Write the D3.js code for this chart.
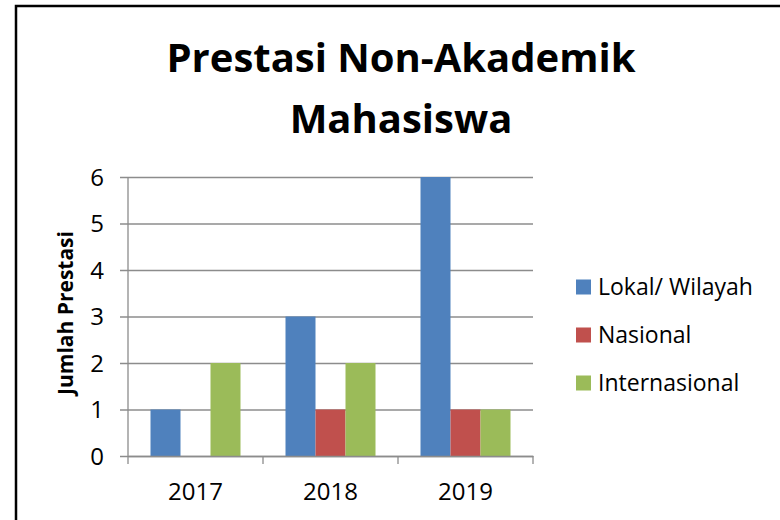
<!DOCTYPE html>
<html>
<head>
<meta charset="utf-8">
<script src="https://cdn.jsdelivr.net/npm/d3@7"></script>
<style>
  body { margin: 0; background: #fff; }
  svg text { font-family: "Open Sans", Lato, sans-serif; fill: #000; }
</style>
</head>
<body>
<div id="chart"></div>
<script>
// data
const years = ["2017", "2018", "2019"];
const seriesNames = ["Lokal/ Wilayah", "Nasional", "Internasional"];
const lokal = [1, 3, 6];
const nasional = [0, 1, 1];
const internasional = [2, 2, 1];
const yTicks = [0, 1, 2, 3, 4, 5, 6];
const colors = ["#4F81BD", "#C0504D", "#9BBB59"];

const width = 780, height = 520;
let margin = { top: 177, right: 247, bottom: 64, left: 128 };

const svg = d3.select("#chart").append("svg")
  .attr("width", width)
  .attr("height", height);

// frame of the chart box
svg.append("path")
  .attr("d", "M16,520 L16,6 L780,6")
  .attr("fill", "none")
  .attr("stroke", "#000")
  .attr("stroke-width", 2.5);

const g = svg.append("g")
  .attr("transform", "translate(" + margin.left + "," + margin.top + ")");

const innerW = width - margin.left - margin.right;
const innerH = height - margin.top - margin.bottom;

const x0 = d3.scaleBand().domain(years).range([0, innerW]).paddingInner(0).paddingOuter(0);
const x1 = d3.scaleBand().domain(seriesNames).range([22.5, x0.bandwidth() - 22.5]);
const y = d3.scaleLinear().domain([0, 6]).range([innerH, 0]);

// gridlines + left ticks
g.append("g")
  .call(d3.axisLeft(y).tickValues(yTicks).tickSize(-innerW - 8).tickFormat(""))
  .attr("transform", "translate(-8,0)")
  .call(s => s.select(".domain").remove())
  .call(s => s.selectAll("line").attr("stroke", "#8c8c8c").attr("stroke-width", 1.3));

// y labels
g.selectAll(".ylab")
  .data(yTicks)
  .join("text")
  .attr("x", -24)
  .attr("y", d => y(d))
  .attr("dy", "0.36em")
  .attr("text-anchor", "end")
  .attr("font-size", "24px")
  .text(d => d);

// bars
const table = years.map((yr, i) => ({ year: yr, values: [lokal[i], nasional[i], internasional[i]] }));

g.selectAll(".grp")
  .data(table)
  .join("g")
  .attr("transform", d => "translate(" + x0(d.year) + ",0)")
  .selectAll("rect")
  .data(d => d.values.map((v, j) => ({ name: seriesNames[j], value: v, color: colors[j] })))
  .join("rect")
  .attr("x", d => x1(d.name))
  .attr("width", x1.bandwidth())
  .attr("y", d => y(d.value))
  .attr("height", d => innerH - y(d.value))
  .attr("fill", d => d.color);

// y axis line
g.append("line")
  .attr("x1", 0).attr("x2", 0)
  .attr("y1", 0).attr("y2", innerH)
  .attr("stroke", "#8c8c8c").attr("stroke-width", 1.3);

// x axis
const xAxis = g.append("g")
  .attr("transform", "translate(0," + innerH + ")")
  .call(d3.axisBottom(x0).tickSize(0).tickFormat(""));
xAxis.select(".domain").attr("stroke", "#8c8c8c").attr("stroke-width", 1.3);
xAxis.selectAll(".tick").remove();

g.selectAll(".xtick")
  .data([0].concat(years.map(d => x0(d) + x0.bandwidth())))
  .join("line")
  .attr("x1", d => d).attr("x2", d => d)
  .attr("y1", innerH).attr("y2", innerH + 8)
  .attr("stroke", "#8c8c8c").attr("stroke-width", 1.3);

g.selectAll(".xlab")
  .data(years)
  .join("text")
  .attr("x", d => x0(d) + x0.bandwidth() / 2)
  .attr("y", innerH + 44)
  .attr("text-anchor", "middle")
  .attr("font-size", "24px")
  .text(d => d);

// y axis title
svg.append("text")
  .attr("transform", "translate(73,313) rotate(-90)")
  .attr("text-anchor", "middle")
  .attr("font-size", "21px")
  .attr("font-weight", "bold")
  .text("Jumlah Prestasi");

// title
const title = svg.append("text")
  .attr("text-anchor", "middle")
  .attr("font-size", "40px")
  .attr("font-weight", "bold");
title.append("tspan").attr("x", 401).attr("y", 72).text("Prestasi Non-Akademik");
title.append("tspan").attr("x", 401).attr("y", 133).text("Mahasiswa");

// legend
const legend = svg.append("g").attr("transform", "translate(576,287)");
const item = legend.selectAll("g")
  .data(seriesNames)
  .join("g")
  .attr("transform", (d, i) => "translate(0," + i * 48 + ")");
item.append("rect")
  .attr("x", 0).attr("y", -7.5)
  .attr("width", 15).attr("height", 15)
  .attr("fill", (d, i) => colors[i]);
item.append("text")
  .attr("x", 22)
  .attr("dy", "0.36em")
  .attr("font-size", "23px")
  .text(d => d);
</script>
</body>
</html>
